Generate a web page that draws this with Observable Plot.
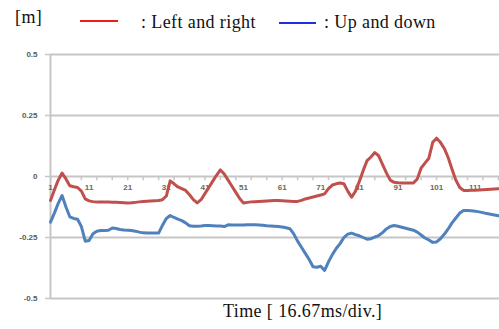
<!DOCTYPE html>
<html>
<head>
<meta charset="utf-8">
<script src="https://cdn.jsdelivr.net/npm/d3@7"></script>
<script src="https://cdn.jsdelivr.net/npm/@observablehq/plot@0.6"></script>
<style>
  html, body { margin: 0; padding: 0; background: #fff; }
  #wrap { position: relative; width: 499px; height: 329px; overflow: hidden; }
  .lbl { position: absolute; font-family: "Liberation Serif", "Times New Roman", serif; color: #111; font-size: 18px; letter-spacing: 0.4px; white-space: nowrap; line-height: 1; z-index: 2; }
  .key { position: absolute; height: 2px; z-index: 2; }
  #wrap svg { position: absolute; left: 0; top: 0; }
</style>
</head>
<body>
<div id="wrap">
  <div class="lbl" style="left:15px; top:8px;">[m]</div>
  <div class="key" style="left:80px; top:20px; width:38px; background:#f01c1c;"></div>
  <div class="lbl" style="left:141px; top:13px;">: Left and right</div>
  <div class="key" style="left:279px; top:22px; width:37px; background:#2030e0;"></div>
  <div class="lbl" style="left:324px; top:13px;">: Up and down</div>
  <div class="lbl" style="left:223px; top:302px;">Time [ 16.67ms/div.]</div>
</div>
<script>
// Frame index (one sample per 16.67 ms)
const frames = d3.range(1, 118);

// Displacement, left/right [m]
const leftRight = [
  -0.098, -0.055, -0.015, 0.014, -0.010, -0.038, -0.042, -0.045, -0.060, -0.092,
  -0.100, -0.103, -0.105, -0.105, -0.105, -0.105, -0.106, -0.106, -0.107, -0.108,
  -0.109, -0.108, -0.106, -0.104, -0.102, -0.101, -0.100, -0.099, -0.098, -0.095,
  -0.080, -0.018, -0.030, -0.043, -0.050, -0.057, -0.075, -0.095, -0.108, -0.095,
  -0.070, -0.045, -0.020, 0.005, 0.027, 0.010, -0.015, -0.040, -0.065, -0.090,
  -0.109, -0.106, -0.104, -0.103, -0.102, -0.101, -0.100, -0.099, -0.098, -0.098,
  -0.099, -0.100, -0.101, -0.102, -0.102, -0.098, -0.092, -0.088, -0.084, -0.080,
  -0.076, -0.071, -0.050, -0.035, -0.030, -0.027, -0.030, -0.060, -0.085, -0.060,
  -0.020, 0.025, 0.065, 0.080, 0.098, 0.085, 0.050, 0.015, -0.015, -0.024,
  -0.026, -0.027, -0.027, -0.027, -0.027, -0.010, 0.035, 0.055, 0.075, 0.140,
  0.157, 0.140, 0.115, 0.078, 0.030, -0.015, -0.045, -0.057, -0.057, -0.056,
  -0.056, -0.055, -0.054, -0.053, -0.052, -0.051, -0.050
];

// Displacement, up/down [m]
const upDown = [
  -0.187, -0.150, -0.110, -0.078, -0.125, -0.165, -0.172, -0.175, -0.205, -0.265,
  -0.262, -0.235, -0.224, -0.221, -0.221, -0.220, -0.211, -0.213, -0.217, -0.219,
  -0.220, -0.221, -0.224, -0.228, -0.231, -0.232, -0.232, -0.232, -0.232, -0.200,
  -0.172, -0.160, -0.168, -0.175, -0.181, -0.190, -0.202, -0.204, -0.204, -0.203,
  -0.201, -0.201, -0.202, -0.203, -0.203, -0.205, -0.198, -0.199, -0.199, -0.199,
  -0.199, -0.198, -0.198, -0.198, -0.199, -0.200, -0.202, -0.203, -0.204, -0.205,
  -0.207, -0.210, -0.214, -0.235, -0.265, -0.290, -0.315, -0.340, -0.370, -0.372,
  -0.368, -0.385, -0.350, -0.320, -0.295, -0.275, -0.250, -0.236, -0.232, -0.238,
  -0.243, -0.250, -0.257, -0.255, -0.248, -0.242, -0.230, -0.215, -0.205, -0.201,
  -0.204, -0.208, -0.212, -0.216, -0.220, -0.228, -0.240, -0.252, -0.260, -0.270,
  -0.268, -0.255, -0.237, -0.215, -0.190, -0.170, -0.150, -0.139, -0.139, -0.140,
  -0.142, -0.145, -0.148, -0.152, -0.155, -0.158, -0.161
];

const yTicks = [0.5, 0.25, 0, -0.25, -0.5];
const xLabels = [1, 11, 21, 31, 41, 51, 61, 71, 81, 91, 101, 111];
const xMarks = d3.range(1, 118, 4);

const rows = frames.map((f, i) => ({frame: f, lr: leftRight[i], ud: upDown[i]}));

const grid = "#c6c6c6";
const tickFont = "Liberation Sans, Arial, sans-serif";

const chart = Plot.plot({
  width: 499,
  height: 329,
  marginTop: 54,
  marginBottom: 31,
  marginLeft: 50,
  marginRight: 0,
  x: {type: "linear", domain: [1, 117.3], axis: null},
  y: {type: "linear", domain: [-0.5, 0.5], axis: null},
  marks: [
    // horizontal gridlines
    Plot.ruleY(yTicks, {y: d => d, stroke: grid, strokeWidth: 2}),
    // vertical axis line
    Plot.ruleX([1], {x: d => d, y1: -0.5, y2: 0.5, stroke: grid, strokeWidth: 2}),
    // small outward ticks on the vertical axis
    Plot.ruleY(yTicks, {y: d => d, x1: -0.3, x2: 1, stroke: grid, strokeWidth: 1.5}),
    Plot.text(yTicks, {x: 1, y: d => d, text: d => String(d), textAnchor: "end", dx: -13,
      fill: "#5a5a5a", fontSize: 8, fontWeight: "bold", fontFamily: tickFont}),
    // category tick marks hanging from the zero line
    Plot.ruleX(xMarks, {x: d => d, y1: 0, y2: -0.017, stroke: grid, strokeWidth: 1.5}),
    Plot.text(xLabels, {x: d => d, y: 0, text: d => String(d), dy: 11,
      fill: "#6a6a5a", fontSize: 8, fontWeight: "bold", fontFamily: tickFont}),
    Plot.line(rows, {x: "frame", y: "lr", stroke: "#c0504d", strokeWidth: 3, strokeLinejoin: "round", strokeLinecap: "round"}),
    Plot.line(rows, {x: "frame", y: "ud", stroke: "#4f81bd", strokeWidth: 3, strokeLinejoin: "round", strokeLinecap: "round"})
  ]
});
document.getElementById("wrap").appendChild(chart);
</script>
</body>
</html>
